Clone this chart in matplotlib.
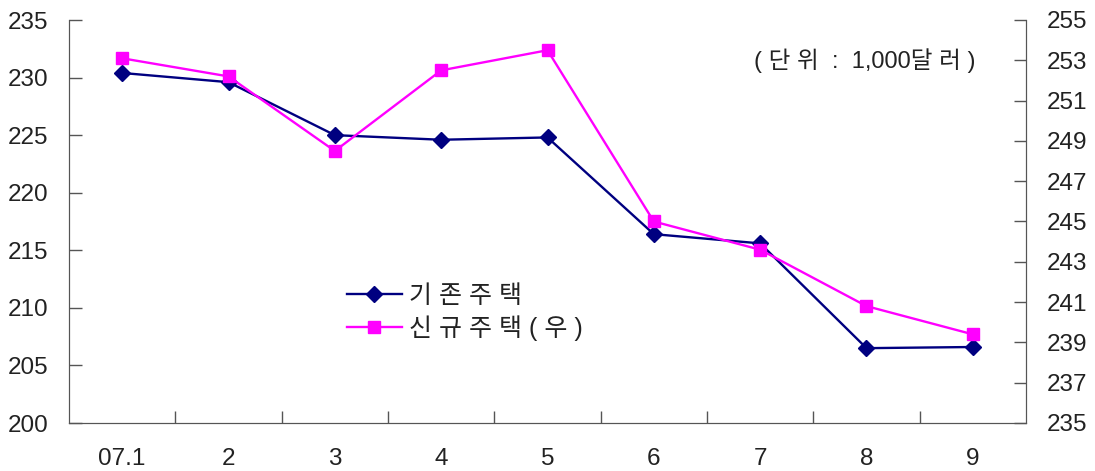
import matplotlib
matplotlib.use("Agg")
import matplotlib.pyplot as plt
from matplotlib.ticker import FixedLocator, NullFormatter

plt.rcParams['font.family'] = ['Liberation Sans', 'Noto Sans CJK KR', 'DejaVu Sans']

# data
months = ['07.1', '2', '3', '4', '5', '6', '7', '8', '9']
existing = [230.4, 229.6, 225.0, 224.6, 224.8, 216.4, 215.6, 206.5, 206.6]   # left axis
new_homes = [253.1, 252.2, 248.5, 252.5, 253.5, 245.0, 243.6, 240.8, 239.4]  # right axis
left_ticks = [200, 205, 210, 215, 220, 225, 230, 235]
right_ticks = [235, 237, 239, 241, 243, 245, 247, 249, 251, 253, 255]

fig = plt.figure(figsize=(10.95, 4.71), dpi=100)
ax = fig.add_axes([69 / 1095, 1 - 423 / 471, (1026 - 69) / 1095, (423 - 20) / 471])
ax2 = ax.twinx()

x = list(range(len(months)))
l1, = ax.plot(x, existing, color='#000080', lw=1.7, marker='D', ms=8,
              label='기 존 주 택')
l2, = ax2.plot(x, new_homes, color='#FF00FF', lw=1.7, marker='s', ms=9,
               label='신 규 주 택 ( 우 )')

ax.set_xlim(-0.5, len(months) - 0.5)
ax.set_ylim(200, 235)
ax2.set_ylim(235, 255)
ax.set_yticks(left_ticks)
ax2.set_yticks(right_ticks)

# category labels centred, tick marks between categories
ax.set_xticks(x)
ax.set_xticklabels(months)
ax.tick_params(axis='x', which='major', length=0, pad=18)
ax.xaxis.set_minor_locator(FixedLocator([i + 0.5 for i in range(len(months) - 1)]))
ax.xaxis.set_minor_formatter(NullFormatter())
ax.tick_params(axis='x', which='minor', direction='in', length=9, width=1, color='#555555')

ax.tick_params(axis='y', direction='in', length=9, width=1, color='#555555', pad=15)
ax2.tick_params(axis='y', direction='in', length=9, width=1, color='#555555', pad=15)
for a in (ax, ax2):
    for lab in a.get_xticklabels() + a.get_yticklabels():
        lab.set_fontsize(17.5)
        lab.set_color('#222222')
    a.spines['top'].set_visible(False)
    for s in ('left', 'right', 'bottom'):
        a.spines[s].set_color('#555555')

ax.text(0.947, 0.9, '( 단 위  :  1,000달 러 )', transform=ax.transAxes,
        ha='right', va='center', fontsize=17, color='#222222')

leg = ax.legend(handles=[l1, l2], loc='upper left', bbox_to_anchor=(0.28, 0.37),
                frameon=False, fontsize=18, handlelength=2.2, handletextpad=0.3,
                labelspacing=0.3, borderaxespad=0)
for t in leg.get_texts():
    t.set_color('#222222')

fig.savefig('out.png', dpi=100)
